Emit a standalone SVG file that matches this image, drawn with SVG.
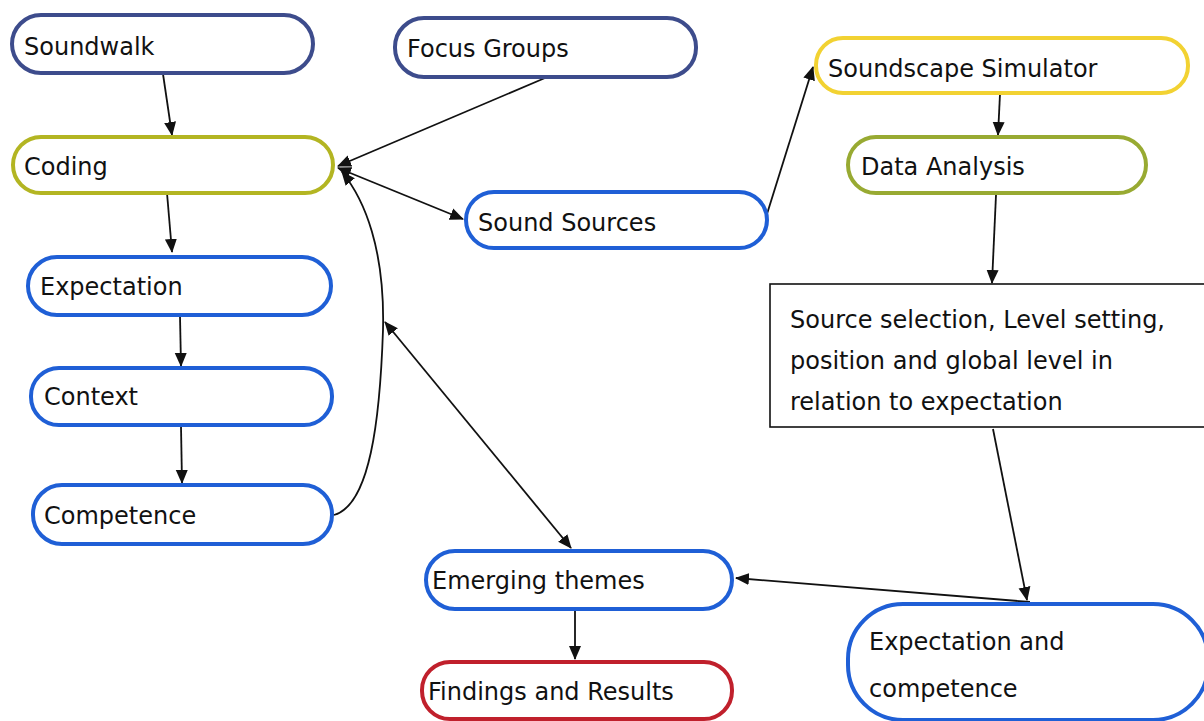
<svg xmlns="http://www.w3.org/2000/svg" width="1204" height="721" viewBox="0 0 1204 721">
<style>
.n{fill:#fff;stroke-width:4}
.t{font-family:"DejaVu Sans","Liberation Sans",sans-serif;font-size:24px;fill:#111}
.c{fill:none;stroke:#111;stroke-width:1.8}
.db{stroke:#3d4c8c}.ol{stroke:#b3b522}.bl{stroke:#1f5fd6}.ye{stroke:#f2d232}.og{stroke:#98aa32}.rd{stroke:#c0202c}
</style>
<defs>
<marker id="a" viewBox="0 0 14 14" refX="13" refY="7" markerWidth="14" markerHeight="14" markerUnits="userSpaceOnUse" orient="auto-start-reverse"><path d="M0,1 L14,7 L0,13 Z" fill="#111"/></marker>
</defs>
<rect width="1204" height="721" fill="#fff"/>
<g id="connectors">
<line class="c" x1="163" y1="74" x2="172" y2="135" marker-end="url(#a)"/>
<line class="c" x1="545" y1="78" x2="338" y2="166" marker-end="url(#a)"/>
<line class="c" x1="338" y1="168" x2="463" y2="219" marker-start="url(#a)" marker-end="url(#a)"/>
<line class="c" x1="167" y1="193" x2="172" y2="252" marker-end="url(#a)"/>
<line class="c" x1="180" y1="316" x2="181" y2="366" marker-end="url(#a)"/>
<line class="c" x1="181" y1="426" x2="182" y2="483" marker-end="url(#a)"/>
<path class="c" d="M334,515 C370,505 380,420 383,330 C385,250 365,200 342,172" marker-end="url(#a)"/>
<line class="c" x1="385" y1="322" x2="571" y2="548" marker-start="url(#a)" marker-end="url(#a)"/>
<line class="c" x1="767" y1="214" x2="813" y2="67" marker-end="url(#a)"/>
<line class="c" x1="1000" y1="94" x2="998" y2="135" marker-end="url(#a)"/>
<line class="c" x1="996" y1="195" x2="992" y2="283" marker-end="url(#a)"/>
<line class="c" x1="993" y1="429" x2="1027" y2="600" marker-end="url(#a)"/>
<line class="c" x1="1030" y1="602" x2="736" y2="578" marker-end="url(#a)"/>
<line class="c" x1="575" y1="610" x2="575" y2="659" marker-end="url(#a)"/>
</g>
<g id="soundwalk"><rect class="n db" x="12" y="15" width="301" height="58" rx="29"/><text class="t" x="24" y="55">Soundwalk</text></g>
<g id="focus-groups"><rect class="n db" x="395" y="18" width="301" height="59" rx="29"/><text class="t" x="407" y="57">Focus Groups</text></g>
<g id="coding"><rect class="n ol" x="13" y="137" width="320" height="56" rx="28"/><text class="t" x="24" y="175">Coding</text></g>
<g id="sound-sources"><rect class="n bl" x="466" y="192" width="301" height="56" rx="28"/><text class="t" x="478" y="231">Sound Sources</text></g>
<g id="soundscape-simulator"><rect class="n ye" x="816" y="38" width="372" height="55" rx="27"/><text class="t" x="828" y="77">Soundscape Simulator</text></g>
<g id="data-analysis"><rect class="n og" x="848" y="137" width="298" height="56" rx="28"/><text class="t" x="861" y="175">Data Analysis</text></g>
<g id="source-selection"><rect x="770" y="284" width="440" height="143" fill="#fff" stroke="#111" stroke-width="1.6"/>
<text class="t" x="790" y="328">Source selection, Level setting,</text>
<text class="t" x="790" y="369">position and global level in</text>
<text class="t" x="790" y="410">relation to expectation</text></g>
<g id="expectation"><rect class="n bl" x="28" y="257" width="303" height="58" rx="29"/><text class="t" x="40" y="295">Expectation</text></g>
<g id="context"><rect class="n bl" x="31" y="368" width="301" height="57" rx="28"/><text class="t" x="44" y="405">Context</text></g>
<g id="competence"><rect class="n bl" x="33" y="485" width="299" height="59" rx="29"/><text class="t" x="44" y="524">Competence</text></g>
<g id="emerging-themes"><rect class="n bl" x="426" y="551" width="306" height="58" rx="29"/><text class="t" x="432" y="589">Emerging themes</text></g>
<g id="findings"><rect class="n rd" x="422" y="662" width="310" height="57" rx="28"/><text class="t" x="428" y="700">Findings and Results</text></g>
<g id="expectation-competence"><rect class="n bl" x="848" y="604" width="360" height="116" rx="55"/>
<text class="t" x="869" y="650">Expectation and</text>
<text class="t" x="869" y="697">competence</text></g>
</svg>
